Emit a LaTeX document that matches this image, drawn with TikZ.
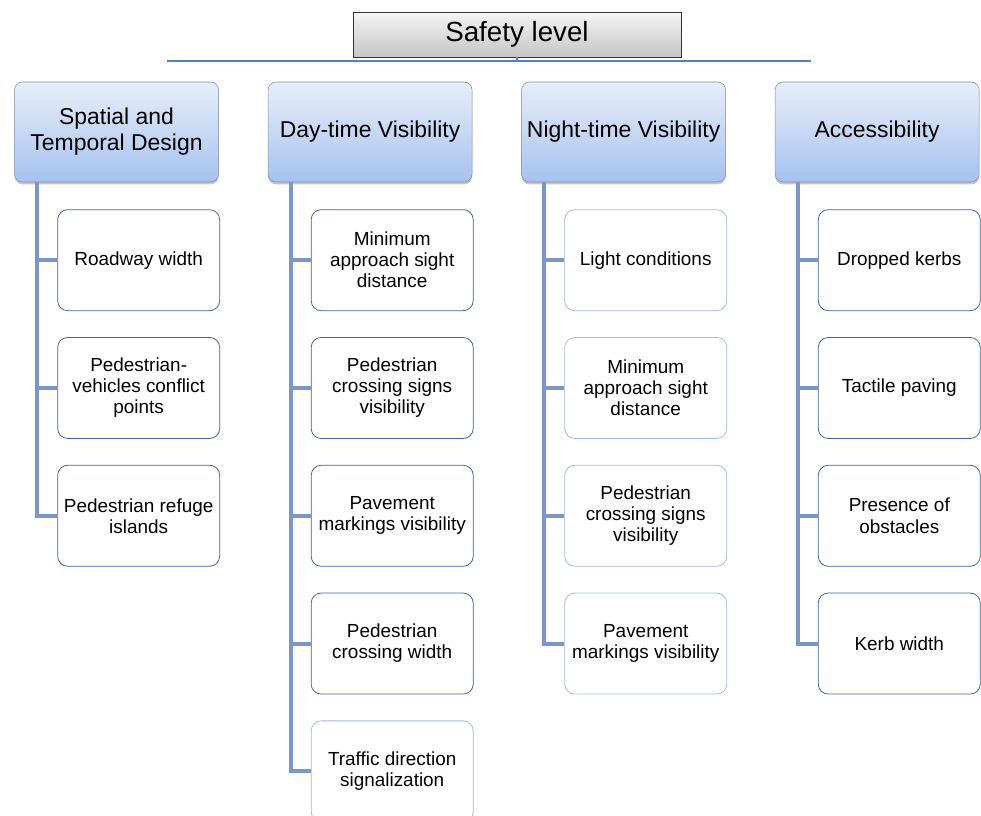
\documentclass[tikz,border=0pt]{standalone}
\usepackage{fontspec}
\setmainfont{Liberation Sans}
\usetikzlibrary{positioning}
\usetikzlibrary{shadows}
\definecolor{headtop}{HTML}{E8EEF9}
\definecolor{headbot}{HTML}{A6C2F0}
\definecolor{headline}{HTML}{7F8DA8}
\definecolor{trunkblue}{HTML}{7B97C9}
\definecolor{barblue}{HTML}{4F81BD}
\definecolor{darkedge}{HTML}{3D66A6}
\definecolor{lightedge}{HTML}{A4BADF}
\tikzset{safetybox/.style={rectangle,draw=black!80,line width=0.6pt,top color=gray!8,bottom color=gray!45,
inner sep=2pt,minimum height=33.75pt,minimum width=246pt,font=\fontsize{20.8}{24}\selectfont}}
\tikzset{headbox/.style={rectangle,rounded corners=6pt,draw=headline,top color=headtop,bottom color=headbot,
drop shadow={opacity=0.45,shadow xshift=0pt,shadow yshift=-1.8pt},
inner sep=2pt,minimum height=75pt,minimum width=153pt,align=center,font=\fontsize{17.2}{19.5}\selectfont}}
\tikzset{itembox/.style={rectangle,rounded corners=7.5pt,draw=darkedge,line width=0.6pt,fill=white,
inner sep=2pt,minimum height=75.75pt,minimum width=121.5pt,align=center,font=\fontsize{14.2}{15.8}\selectfont}}
\tikzset{itemboxlight/.style={itembox,draw=lightedge}}
\tikzset{trunk/.style={draw=trunkblue,line width=3pt}}

\begin{document}
\begin{tikzpicture}
    \useasboundingbox (0,0) rectangle (735.75pt,-612pt);

    \node[safetybox] (safety) at (387.75pt,-25.9pt) {Safety level};
    \coordinate (barL) at (125.25pt,-45.75pt);
    \coordinate (barR) at (608.25pt,-45.75pt);
    \draw[draw=barblue,line width=2pt] (barL) -- (barR);
    \draw[draw=barblue,line width=2pt] (safety.south) -- (safety.south |- barL);

    \node[headbox] (headA) at (87.4pt,-99pt) {Spatial and\\Temporal Design};
    \node[headbox] (headB) [right=36.75pt of headA] {Day-time Visibility};
    \node[headbox] (headC) [right=36.75pt of headB] {Night-time Visibility};
    \node[headbox] (headD) [right=36.75pt of headC] {Accessibility};

    % first column
    \node[itembox,anchor=north west] (boxA1) at ([xshift=32.25pt,yshift=-20.25pt]headA.south west) {Roadway width};
    \node[itembox] (boxA2) [below=19.5pt of boxA1] {Pedestrian-\\vehicles conflict\\points};
    \node[itembox] (boxA3) [below=19.5pt of boxA2] {Pedestrian refuge\\islands};

    % second column
    \node[itembox,anchor=north west] (boxB1) at ([xshift=32.25pt,yshift=-20.25pt]headB.south west) {Minimum\\approach sight\\distance};
    \node[itembox] (boxB2) [below=19.5pt of boxB1] {Pedestrian\\crossing signs\\visibility};
    \node[itembox] (boxB3) [below=19.5pt of boxB2] {Pavement\\markings visibility};
    \node[itembox] (boxB4) [below=19.5pt of boxB3] {Pedestrian\\crossing width};
    \node[itemboxlight] (boxB5) [below=19.5pt of boxB4] {Traffic direction\\signalization};

    % third column
    \node[itemboxlight,anchor=north west] (boxC1) at ([xshift=32.25pt,yshift=-20.25pt]headC.south west) {Light conditions};
    \node[itemboxlight] (boxC2) [below=19.5pt of boxC1] {Minimum\\approach sight\\distance};
    \node[itemboxlight] (boxC3) [below=19.5pt of boxC2] {Pedestrian\\crossing signs\\visibility};
    \node[itemboxlight] (boxC4) [below=19.5pt of boxC3] {Pavement\\markings visibility};

    % fourth column
    \node[itembox,anchor=north west] (boxD1) at ([xshift=32.25pt,yshift=-20.25pt]headD.south west) {Dropped kerbs};
    \node[itembox] (boxD2) [below=19.5pt of boxD1] {Tactile paving};
    \node[itembox] (boxD3) [below=19.5pt of boxD2] {Presence of\\obstacles};
    \node[itembox] (boxD4) [below=19.5pt of boxD3] {Kerb width};

    % trunks and branches
    \coordinate (trunkA) at ([xshift=17.25pt]headA.south west);
    \coordinate (trunkB) at ([xshift=17.25pt]headB.south west);
    \coordinate (trunkC) at ([xshift=17.25pt]headC.south west);
    \coordinate (trunkD) at ([xshift=17.25pt]headD.south west);

    \draw[trunk] (trunkA) |- (boxA3.west);
    \draw[trunk] (boxA1.west) -- (boxA1.west -| trunkA);
    \draw[trunk] (boxA2.west) -- (boxA2.west -| trunkA);

    \draw[trunk] (trunkB) |- (boxB5.west);
    \draw[trunk] (boxB1.west) -- (boxB1.west -| trunkB);
    \draw[trunk] (boxB2.west) -- (boxB2.west -| trunkB);
    \draw[trunk] (boxB3.west) -- (boxB3.west -| trunkB);
    \draw[trunk] (boxB4.west) -- (boxB4.west -| trunkB);

    \draw[trunk] (trunkC) |- (boxC4.west);
    \draw[trunk] (boxC1.west) -- (boxC1.west -| trunkC);
    \draw[trunk] (boxC2.west) -- (boxC2.west -| trunkC);
    \draw[trunk] (boxC3.west) -- (boxC3.west -| trunkC);

    \draw[trunk] (trunkD) |- (boxD4.west);
    \draw[trunk] (boxD1.west) -- (boxD1.west -| trunkD);
    \draw[trunk] (boxD2.west) -- (boxD2.west -| trunkD);
    \draw[trunk] (boxD3.west) -- (boxD3.west -| trunkD);

\end{tikzpicture}
\end{document}
